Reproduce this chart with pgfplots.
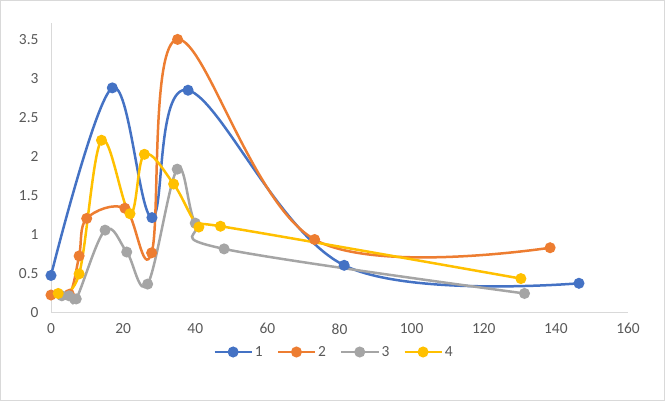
\documentclass[border=0pt]{standalone}
\usepackage{fontspec}
\setmainfont{Carlito}
\usepackage{pgfplots}
\pgfplotsset{compat=1.18}
\definecolor{s1}{HTML}{4472C4}
\definecolor{s2}{HTML}{ED7D31}
\definecolor{s3}{HTML}{A5A5A5}
\definecolor{s4}{HTML}{FFC000}
\definecolor{txt}{HTML}{595959}
\definecolor{axl}{HTML}{D9D9D9}
\begin{document}
\begin{tikzpicture}
\draw[color=axl, line width=1bp] (0.5bp,0.5bp) rectangle (664.5bp,400.5bp);
\begin{axis}[
  at={(51bp,88bp)}, anchor=south west,
  scale only axis, width=577bp, height=290bp,
  xmin=0, xmax=160, ymin=0, ymax=3.71,
  xtick={0,20,...,160}, ytick={0,0.5,1,1.5,2,2.5,3,3.5},
  axis x line*=bottom, axis y line*=left,
  axis line style={draw=axl, line width=1bp, -},
  major tick length=0pt,
  tick label style={font=\fontsize{15.5}{18}\selectfont, text=txt},
  /pgf/number format/assume math mode=true,
  yticklabel style={xshift=-9bp},
  xticklabel style={yshift=-7bp},
  clip=false,
  every axis plot/.append style={smooth, tension=0.6, line width=2.5bp, mark=*, mark size=4.2bp, mark options={solid}},
  legend columns=4,
  legend style={at={(0.4905,-0.1345)}, anchor=center, draw=none, fill=none,
    font=\fontsize{15.5}{18}\selectfont, text=txt,
    /tikz/every even column/.append style={column sep=12bp}},
  legend image code/.code={\draw[mark repeat=2, mark phase=2, line width=2.5bp] plot coordinates {(0bp,0bp) (18.5bp,0bp) (37bp,0bp)};},
]
\addplot[color=s1] coordinates {(0,0.48) (17,2.88) (28,1.22) (38,2.85) (81.3,0.61) (146.4,0.38)};
\addlegendentry{1}
\addplot[color=s2] coordinates {(0,0.23) (5.1,0.24) (7.8,0.73) (9.9,1.21) (20.5,1.34) (27.9,0.77) (35.1,3.50) (73.1,0.94) (138.4,0.835)};
\addlegendentry{2}
\addplot[color=s3] coordinates {(3,0.22) (5,0.22) (7,0.18) (15,1.06) (21,0.78) (26.8,0.37) (35,1.84) (40,1.15) (48,0.82) (131.3,0.25)};
\addlegendentry{3}
\addplot[color=s4] coordinates {(2,0.25) (7.8,0.50) (14,2.21) (21.9,1.27) (25.9,2.03) (34,1.65) (41,1.10) (47,1.11) (130.3,0.44)};
\addlegendentry{4}
\end{axis}
\end{tikzpicture}
\end{document}
